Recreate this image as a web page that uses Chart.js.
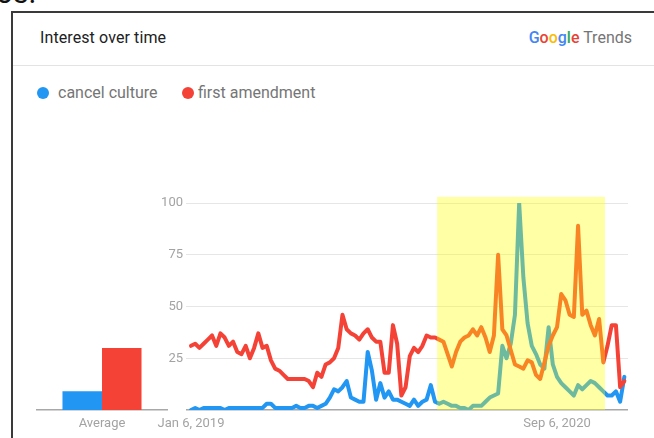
<!DOCTYPE html>
<html>
<head>
<meta charset="utf-8">
<script src="https://cdn.jsdelivr.net/npm/chart.js@4.4.0/dist/chart.umd.min.js"></script>
<style>
  html, body { margin: 0; padding: 0; background: #fff; width: 654px; height: 438px; overflow: hidden;
    font-family: Roboto, "Noto Sans", sans-serif; }
  .abs { position: absolute; }
  #cut { left: -4px; top: -24px; font-size: 30px; line-height: 34px; color: #111; }
  #cardLeft { left: 11px; top: 11px; width: 2px; height: 440px; background: #3a3a3a; }
  #cardTop { left: 11px; top: 11px; width: 650px; height: 2px; background: #3a3a3a; }
  #divider { left: 13px; top: 65px; width: 641px; height: 1px; background: #e3e3e3; }
  #title { left: 40px; top: 28px; font-size: 16px; line-height: 20px; color: #202124; letter-spacing: 0.1px; }
  #brand { right: 22px; top: 28px; font-size: 16px; line-height: 20px; color: #757575; white-space: nowrap; }
  #brand b { font-weight: 500; }
  .legend { top: 83px; font-size: 16px; line-height: 20px; color: #757575; white-space: nowrap; }
  .dot { width: 12px; height: 12px; border-radius: 50%; top: 87px; }
  canvas { position: absolute; }
</style>
</head>
<body>
<div id="cut" class="abs">os.</div>
<div id="cardLeft" class="abs"></div>
<div id="cardTop" class="abs"></div>
<div id="title" class="abs">Interest over time</div>
<div id="brand" class="abs"><b><span style="color:#4285F4">G</span><span style="color:#EA4335">o</span><span style="color:#FBBC05">o</span><span style="color:#4285F4">g</span><span style="color:#34A853">l</span><span style="color:#EA4335">e</span></b> Trends</div>
<div id="divider" class="abs"></div>
<div id="legend"></div>
<canvas id="avgChart" width="150" height="248" style="left:30px;top:190px;"></canvas>
<canvas id="lineChart" width="504" height="248" style="left:150px;top:190px;"></canvas>
<script>
// Search terms and their colours
const seriesNames = ["cancel culture", "first amendment"];
const seriesColors = ["#2196F3", "#F44336"];

// Weekly interest, Jan 6, 2019 onward (one value per week)
const cancelCulture = [
  0, 1, 0, 1, 1, 1, 1, 1, 0, 1, 1, 1, 1, 1, 1, 1, 1, 1, 3, 3, 1, 1, 1, 1, 1, 2, 1, 1, 2, 2, 1, 2,
  3, 6, 10, 9, 11, 14, 6, 5, 4, 4, 28, 19, 5, 13, 6, 9, 5, 5, 4, 3, 2, 5, 2, 4, 5, 12, 4,
  3, 4, 3, 2, 2, 1, 1, 0, 2, 2, 2, 4, 6, 7, 8, 31, 25, 32, 46, 100, 64, 42, 31, 27, 22, 20, 40, 22,
  16, 13, 11, 9, 7, 12, 10, 12, 14, 13, 11, 9, 7, 7, 9, 4, 16
];
const firstAmendment = [
  31, 32, 30, 32, 34, 36, 31, 37, 35, 31, 33, 28, 27, 31, 25, 30, 37, 30, 31, 24, 20, 19, 17, 15,
  15, 15, 15, 15, 14, 11, 18, 16, 22, 23, 25, 30,
  46, 39, 37, 36, 34, 37, 39, 35, 33, 33, 18, 18, 41, 32, 7, 11, 26, 30, 28, 31, 36, 35, 35,
  34, 33, 27, 21, 28, 33, 35, 36, 39, 36, 40, 35, 28, 36, 75, 39, 36, 29, 22, 21, 20, 24, 23, 17,
  15, 23, 31, 36, 40, 56, 53, 46, 45, 89, 46, 48, 41, 36, 44, 23, 31, 41, 41, 11, 14
];

// Averages over the whole period
const avgLabels = ["Average"];
const averages = [9, 30];

// Axis ticks
const xTickWeeks = [0, 87];
const xTickLabels = ["Jan 6, 2019", "Sep 6, 2020"];
const yTickValues = [0, 25, 50, 75, 100];

// Shaded span, in weeks
const highlightWeeks = [58.5, 98.4];

const tickGray = "#a3a3a3";
const gridGray = "#e6e6e6";
const axisGray = "#a8a8a8";
const tickFont = { family: "Roboto", size: 13 };

// Legend
const legend = document.getElementById("legend");
const legendX = [[37, 58], [182, 198]];
seriesNames.forEach((name, i) => {
  const dot = document.createElement("div");
  dot.className = "abs dot";
  dot.style.left = legendX[i][0] + "px";
  dot.style.background = seriesColors[i];
  legend.appendChild(dot);
  const txt = document.createElement("div");
  txt.className = "abs legend";
  txt.style.left = legendX[i][1] + "px";
  txt.textContent = name;
  legend.appendChild(txt);
});

const fixedHeight = h => s => { s.height = h; };

// Average bars
new Chart(document.getElementById("avgChart"), {
  type: "bar",
  data: {
    labels: avgLabels,
    datasets: seriesNames.map((name, i) => ({
      label: name,
      data: [averages[i]],
      backgroundColor: seriesColors[i],
      borderWidth: 0,
      categoryPercentage: 0.608,
      barPercentage: 1
    }))
  },
  options: {
    responsive: false,
    animation: false,
    events: [],
    layout: { padding: { left: 7, right: 13, top: 13, bottom: 0 } },
    plugins: { legend: { display: false }, tooltip: { enabled: false } },
    scales: {
      x: {
        grid: { display: false, drawTicks: false },
        border: { display: true, color: axisGray, width: 1.5 },
        ticks: { color: tickGray, font: tickFont, padding: 6 },
        afterFit: fixedHeight(28)
      },
      y: { display: false, min: 0, max: 100 }
    }
  }
});

// Yellow band laid over the lines
const highlightPlugin = {
  id: "highlight",
  afterDatasetsDraw(chart) {
    const { ctx, scales: { x, y } } = chart;
    const x0 = x.getPixelForValue(highlightWeeks[0]);
    const x1 = x.getPixelForValue(highlightWeeks[1]);
    const top = y.getPixelForValue(103);
    const bottom = y.getPixelForValue(0);
    ctx.save();
    ctx.fillStyle = "rgba(255, 255, 0, 0.35)";
    ctx.fillRect(x0, top, x1 - x0, bottom - top);
    ctx.restore();
  }
};

const toPoints = arr => arr.map((v, i) => ({ x: i, y: v }));

new Chart(document.getElementById("lineChart"), {
  type: "line",
  data: {
    datasets: [
      {
        label: seriesNames[0], data: toPoints(cancelCulture), borderColor: seriesColors[0],
        borderWidth: 4, pointRadius: 0, tension: 0, order: 2,
        borderJoinStyle: "round", borderCapStyle: "round"
      },
      {
        label: seriesNames[1], data: toPoints(firstAmendment), borderColor: seriesColors[1],
        borderWidth: 4, pointRadius: 0, tension: 0, order: 1,
        borderJoinStyle: "round", borderCapStyle: "round"
      }
    ]
  },
  options: {
    responsive: false,
    animation: false,
    events: [],
    layout: { padding: { left: 0, right: 26, top: 13, bottom: 0 } },
    plugins: { legend: { display: false }, tooltip: { enabled: false } },
    scales: {
      x: {
        type: "linear",
        min: -1.19,
        max: 103.87,
        afterBuildTicks: s => { s.ticks = xTickWeeks.map(v => ({ value: v })); },
        ticks: {
          autoSkip: false, maxRotation: 0, color: tickGray, font: tickFont, padding: 6,
          callback: v => xTickLabels[xTickWeeks.indexOf(v)]
        },
        grid: { display: false, drawTicks: false },
        border: { display: false },
        afterFit: fixedHeight(28)
      },
      y: {
        min: 0,
        max: 100,
        afterBuildTicks: s => { s.ticks = yTickValues.map(v => ({ value: v })); },
        ticks: { color: tickGray, font: tickFont, padding: 3, callback: v => (v === 0 ? "" : v) },
        grid: {
          drawTicks: false,
          color: c => (c.tick && c.tick.value === 0 ? axisGray : gridGray),
          lineWidth: c => (c.tick && c.tick.value === 0 ? 1.5 : 1)
        },
        border: { display: false },
        afterFit: s => { s.width = 36; }
      }
    }
  },
  plugins: [highlightPlugin]
});
</script>
</body>
</html>
